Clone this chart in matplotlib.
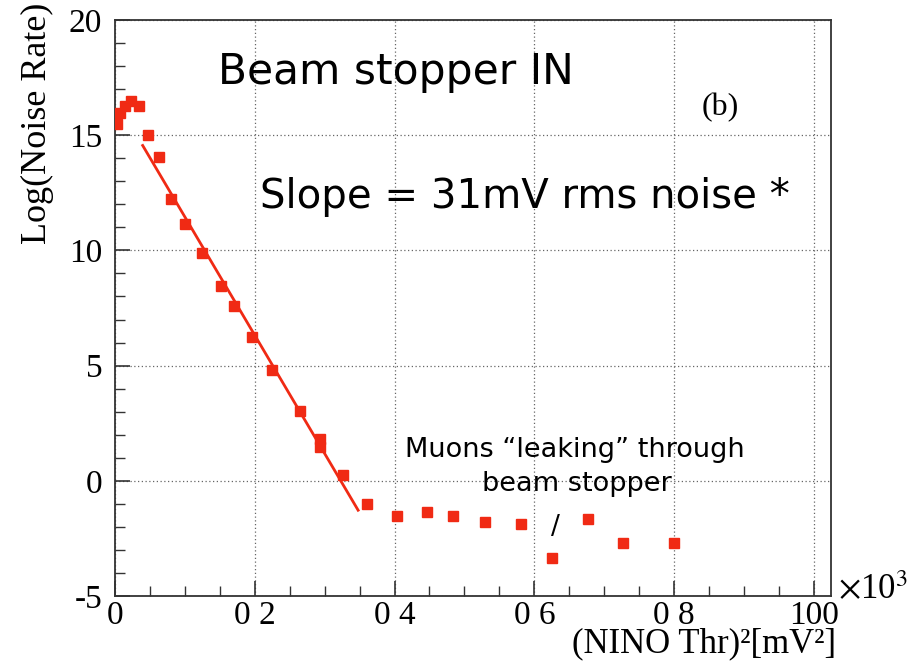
import matplotlib
matplotlib.use("Agg")
import matplotlib.pyplot as plt
from matplotlib.ticker import MultipleLocator
import numpy as np

plt.rcParams["mathtext.fontset"] = "stix"
plt.rcParams["axes.unicode_minus"] = False

# threshold squared (x10^3 mV^2) and log(noise rate)
thr2 = [0.3, 0.7, 1.5, 2.4, 3.5, 4.8, 6.4, 8.1, 10.1, 12.5, 15.2, 17.0,
        19.6, 22.5, 26.5, 29.3, 29.4, 32.6, 36.1, 40.3, 44.7, 48.4, 52.9,
        58.1, 62.5, 67.7, 72.6, 79.9]
lograte = [15.47, 15.95, 16.28, 16.5, 16.28, 15.01, 14.07, 12.25, 11.15,
           9.89, 8.46, 7.59, 6.25, 4.82, 3.04, 1.8, 1.45, 0.26, -1.01, -1.52,
           -1.37, -1.52, -1.78, -1.88, -3.37, -1.66, -2.7, -2.7]

# straight-line fit drawn over the falling part
fit_range = [4.0, 34.8]
fit_slope = -0.514
fit_icept = 16.61

xticks = [0, 20, 40, 60, 80, 100]
xticklabels = ["0", "0 2", "0 4", "0 6", "0 8", "100"]
yticks = [-5, 0, 5, 10, 15, 20]

W, H = 907, 662
red = "#f02a14"
serif = "Liberation Serif"
hand = "DejaVu Sans"

fig = plt.figure(figsize=(W / 100, H / 100), dpi=100)
ax = fig.add_axes([114.7 / W, 1 - 596 / H, (831 - 114.7) / W, (596 - 20) / H])


def px(x, y):
    return x / W, 1 - y / H


fx = np.array(fit_range)
ax.plot(fx, fit_icept + fit_slope * fx, color=red, lw=2.0, zorder=3)
ax.plot(thr2, lograte, "s", color=red, ms=7.5, mec=red, zorder=4)

ax.set_xlim(0, 102.4)
ax.set_ylim(-5, 20)
ax.set_xticks(xticks)
ax.set_xticklabels(xticklabels)
ax.set_yticks(yticks)
ax.xaxis.set_minor_locator(MultipleLocator(5))
ax.yaxis.set_minor_locator(MultipleLocator(1))
ax.tick_params(which="both", direction="in", top=False, right=False,
               labelsize=24, color="#333333")
ax.tick_params(which="major", length=11, width=1.2)
ax.tick_params(which="minor", length=7, width=1.0)
ax.tick_params(axis="x", pad=3)
ax.tick_params(axis="y", pad=9)
for lab in ax.get_xticklabels() + ax.get_yticklabels():
    lab.set_fontfamily(serif)
ax.grid(True, which="major", ls=(0, (1, 2)), color="#666666", lw=0.9)
for s in ax.spines.values():
    s.set_color("#333333")
    s.set_linewidth(1.3)

fig.text(*px(37, 3), "Log(Noise Rate)", fontsize=26, family=serif,
         rotation=90, ha="center", va="top")
fig.text(*px(836, 652), "(NINO Thr)\u00b2[mV\u00b2]", fontsize=25,
         family=serif, ha="right", va="baseline")
fig.text(*px(838, 599), r"$\times$10$^{3}$", fontsize=25, family=serif,
         ha="left", va="baseline")

fig.text(*px(218, 84), "Beam stopper IN", fontsize=30.5, family=hand,
         ha="left", va="baseline")
fig.text(*px(702, 115), "(b)", fontsize=23, family=serif, ha="left",
         va="baseline")
fig.text(*px(260, 208), "Slope = 31mV rms noise *", fontsize=29,
         family=hand, ha="left", va="baseline")
fig.text(*px(575, 457), "Muons \u201cleaking\u201d through", fontsize=19.5,
         family=hand, ha="center", va="baseline")
fig.text(*px(577, 491), "beam stopper", fontsize=19.5, family=hand,
         ha="center", va="baseline")
fig.text(*px(555, 534), "/", fontsize=19, family=hand, ha="center",
         va="baseline")

fig.savefig("out.png", dpi=100)
